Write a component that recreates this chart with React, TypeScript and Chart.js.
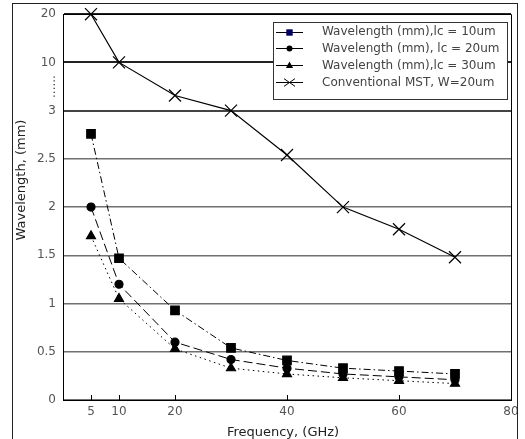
import React, { useEffect, useRef } from "react";
import { Chart, registerables } from "chart.js";

Chart.register(...registerables);

// ---- data ----
const frequencies = [5, 10, 20, 30, 40, 50, 60, 70];
const lc10 = [2.76, 1.47, 0.93, 0.54, 0.41, 0.33, 0.3, 0.27];
const lc20 = [2.0, 1.2, 0.6, 0.42, 0.33, 0.27, 0.24, 0.21];
const lc30 = [1.7, 1.05, 0.53, 0.33, 0.27, 0.23, 0.2, 0.17];
const mst = [20, 10, 5.2, 3, 2.54, 2.0, 1.77, 1.48];
const xTickValues = [5, 10, 20, 40, 60, 80];
const yTickValues = [0, 0.5, 1, 1.5, 2, 2.5, 3, 10, 20];
const seriesLabels = [
  "Wavelength (mm),lc = 10um",
  "Wavelength (mm), lc = 20um",
  "Wavelength (mm),lc = 30um",
  "Conventional MST, W=20um",
];
const xTitle = "Frequency, (GHz)";
const yTitle = "Wavelength, (mm)";
const breakLabel = "......";

// broken axis: 0..3 linear, 3..10 and 10..20 each take half a unit
const toAxis = (v: number) =>
  v <= 3 ? v : v <= 10 ? 3 + ((v - 3) / 7) * 0.5 : 3.5 + ((v - 10) / 10) * 0.5;

const FONT = "'DejaVu Sans', 'Liberation Sans', sans-serif";

function drawMarker(ctx: CanvasRenderingContext2D, style: string, x: number, y: number, s: number) {
  ctx.beginPath();
  if (style === "rect") {
    ctx.rect(x - s, y - s, 2 * s, 2 * s);
    ctx.fill();
  } else if (style === "circle") {
    ctx.arc(x, y, s, 0, Math.PI * 2);
    ctx.fill();
  } else if (style === "triangle") {
    ctx.moveTo(x, y - s * 1.1);
    ctx.lineTo(x + s, y + s * 0.7);
    ctx.lineTo(x - s, y + s * 0.7);
    ctx.closePath();
    ctx.fill();
  } else {
    ctx.moveTo(x - s, y - s * 0.7);
    ctx.lineTo(x + s, y + s * 0.7);
    ctx.moveTo(x + s, y - s * 0.7);
    ctx.lineTo(x - s, y + s * 0.7);
    ctx.stroke();
  }
}

const decorPlugin = {
  id: "decor",
  beforeDraw(chart: any) {
    const { ctx, width, height } = chart;
    ctx.save();
    ctx.fillStyle = "#fff";
    ctx.fillRect(0, 0, width, height);
    ctx.restore();
  },
  afterDraw(chart: any) {
    const { ctx, chartArea: a, scales } = chart;
    ctx.save();
    ctx.strokeStyle = "#000";
    ctx.lineWidth = 1;
    // top & right frame
    ctx.beginPath();
    ctx.moveTo(a.left, Math.round(a.top) + 0.5);
    ctx.lineTo(Math.round(a.right) + 0.5, Math.round(a.top) + 0.5);
    ctx.lineTo(Math.round(a.right) + 0.5, a.bottom);
    ctx.stroke();
    // inner x tick marks
    ctx.beginPath();
    xTickValues.forEach((v) => {
      const px = Math.round(scales.x.getPixelForValue(v)) + 0.5;
      ctx.moveTo(px, a.bottom);
      ctx.lineTo(px, a.bottom - 5);
    });
    ctx.stroke();

    // axis break dots
    const yb = scales.y.getPixelForValue(3.25);
    ctx.save();
    ctx.translate(55, yb);
    ctx.rotate(-Math.PI / 2);
    ctx.fillStyle = "#555";
    ctx.font = `12px ${FONT}`;
    ctx.textAlign = "center";
    ctx.textBaseline = "alphabetic";
    ctx.fillText(breakLabel, 0, 0);
    ctx.restore();

    // titles
    ctx.fillStyle = "#222";
    ctx.font = `13px ${FONT}`;
    ctx.textAlign = "center";
    ctx.textBaseline = "middle";
    ctx.fillText(xTitle, 283, 433);
    ctx.save();
    ctx.translate(22, 180);
    ctx.rotate(-Math.PI / 2);
    ctx.fillText(yTitle, 0, 0);
    ctx.restore();

    // legend
    const lx = 273.5, ly = 22.5, lw = 234, lh = 77;
    ctx.fillStyle = "#fff";
    ctx.fillRect(lx, ly, lw, lh);
    ctx.strokeStyle = "#333";
    ctx.strokeRect(lx, ly, lw, lh);
    const styles = ["rect", "circle", "triangle", "crossRot"];
    const sizes = [3.2, 3, 3.6, 5.5];
    seriesLabels.forEach((lab, i) => {
      const y = 31.5 + i * 16.8;
      ctx.strokeStyle = "#000";
      ctx.beginPath();
      ctx.moveTo(276, Math.round(y) + 0.5);
      ctx.lineTo(303, Math.round(y) + 0.5);
      ctx.stroke();
      ctx.fillStyle = i === 0 ? "#000060" : "#000";
      drawMarker(ctx, styles[i], 289.5, Math.round(y) + 0.5, sizes[i]);
      ctx.fillStyle = "#444";
      ctx.font = `12px ${FONT}`;
      ctx.textAlign = "left";
      ctx.textBaseline = "middle";
      ctx.fillText(lab, 322, y + 0.5);
    });

    // outer figure border
    ctx.strokeStyle = "#222";
    ctx.strokeRect(12.5, 3.5, 505, 500);
    ctx.restore();
  },
};

export default function App() {
  const ref = useRef<HTMLCanvasElement | null>(null);
  useEffect(() => {
    if (!ref.current) return;
    const mk = (label: string, values: number[], style: string, radius: number, dash: number[], bw: number) => ({
      label,
      data: frequencies.map((f, i) => ({ x: f, y: toAxis(values[i]) })),
      showLine: true,
      borderColor: "#000",
      backgroundColor: "#000",
      borderWidth: bw,
      borderDash: dash,
      pointStyle: style,
      pointRadius: radius,
      pointHoverRadius: radius,
      pointBorderWidth: 1.2,
      pointBorderColor: "#000",
      pointBackgroundColor: "#000",
      clip: false,
      tension: 0,
    });
    const chart = new Chart(ref.current, {
      type: "scatter",
      data: {
        datasets: [
          mk(seriesLabels[3], mst, "crossRot", 8.5, [], 1.2),
          mk(seriesLabels[0], lc10, "rect", 6, [7, 3, 1.5, 3], 1),
          mk(seriesLabels[1], lc20, "circle", 4, [9, 4], 1),
          mk(seriesLabels[2], lc30, "triangle", 5.2, [1.5, 3.5], 1),
        ] as any,
      },
      options: {
        responsive: false,
        animation: false,
        devicePixelRatio: 1,
        layout: { padding: { left: 0, right: 14, top: 12, bottom: 0 } },
        plugins: { legend: { display: false }, tooltip: { enabled: false } },
        scales: {
          x: {
            type: "linear",
            min: 0,
            max: 80,
            afterBuildTicks: (s: any) => {
              s.ticks = xTickValues.map((v) => ({ value: v }));
            },
            afterFit: (s: any) => {
              s.height = 39;
            },
            ticks: {
              callback: (_v: any, i: number) => String(xTickValues[i]),
              color: "#555",
              font: { family: FONT, size: 12 },
              padding: 5,
              maxRotation: 0,
              autoSkip: false,
            },
            grid: { display: false, drawTicks: false },
            border: { display: true, color: "#000", width: 1 },
          },
          y: {
            type: "linear",
            min: 0,
            max: 4,
            afterBuildTicks: (s: any) => {
              s.ticks = yTickValues.map((v) => ({ value: toAxis(v) }));
            },
            afterFit: (s: any) => {
              s.width = 63;
            },
            ticks: {
              callback: (_v: any, i: number) => String(yTickValues[i]),
              color: "#555",
              font: { family: FONT, size: 12 },
              padding: 7,
              autoSkip: false,
            },
            grid: {
              drawTicks: false,
              color: (c: any) => {
                const v = c.tick ? c.tick.value : 0;
                if (v === 3.5 || v === 4) return "#222";
                if (v === 3) return "#444";
                return "#707070";
              },
              lineWidth: (c: any) => {
                const v = c.tick ? c.tick.value : 0;
                if (v === 3.5 || v === 3) return 2;
                return 1.5;
              },
            },
            border: { display: true, color: "#000", width: 1 },
          },
        },
      },
      plugins: [decorPlugin],
    });
    return () => chart.destroy();
  }, []);
  return (
    <div style={{ position: "absolute", left: 0, top: 0, width: 525, height: 439 }}>
      <canvas ref={ref} width={525} height={439} style={{ width: 525, height: 439, display: "block" }} />
    </div>
  );
}
